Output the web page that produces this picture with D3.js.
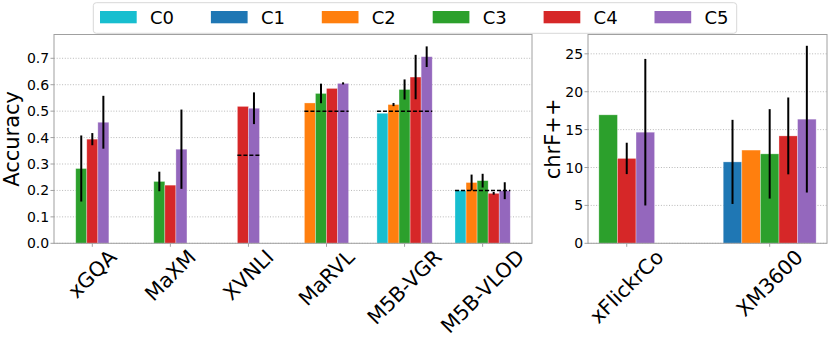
<!DOCTYPE html>
<html lang="en">
<head>
<meta charset="utf-8">
<title>Accuracy and chrF++</title>
<script src="https://cdn.jsdelivr.net/npm/d3@7"></script>
<style>
  body { margin: 0; background: #fff; }
  svg { font-family: "DejaVu Sans", sans-serif; }
</style>
</head>
<body>
<div id="chart"></div>
<script>
// ---- data ----
const accGroups = ["xGQA", "MaXM", "XVNLI", "MaRVL", "M5B-VGR", "M5B-VLOD"];
const accC0 = [null, null, null, null, 0.492, 0.200];
const accC2 = [null, null, null, 0.531, 0.525, 0.230];
const accC3 = [0.283, 0.234, null, 0.567, 0.582, 0.237];
const accC4 = [0.394, 0.220, 0.518, 0.586, 0.629, 0.189];
const accC5 = [0.458, 0.356, 0.511, 0.605, 0.706, 0.199];
const accErrC0 = [0, 0, 0, 0, 0, 0];
const accErrC2 = [0, 0, 0, 0, 0.006, 0.030];
const accErrC3 = [0.125, 0.037, 0, 0.037, 0.038, 0.026];
const accErrC4 = [0.023, 0, 0, 0, 0.084, 0.005];
const accErrC5 = [0.100, 0.150, 0.060, 0.004, 0.039, 0.032];
const chance = [null, null, 1 / 3, 0.5, 0.5, 0.2];
const accTicks = [0, 0.1, 0.2, 0.3, 0.4, 0.5, 0.6, 0.7];

const chrGroups = ["xFlickrCo", "XM3600"];
const chrC1 = [null, 10.74];
const chrC2 = [null, 12.3];
const chrC3 = [16.95, 11.8];
const chrC4 = [11.2, 14.17];
const chrC5 = [14.66, 16.38];
const chrErrC1 = [0, 5.55];
const chrErrC2 = [0, 0];
const chrErrC3 = [0, 5.9];
const chrErrC4 = [2.07, 5.07];
const chrErrC5 = [9.67, 9.68];
const chrTicks = [0, 5, 10, 15, 20, 25];

const legendNames = ["C0", "C1", "C2", "C3", "C4", "C5"];
const colors = {
  C0: "#17becf", C1: "#1f77b4", C2: "#ff7f0e",
  C3: "#2ca02c", C4: "#d62728", C5: "#9467bd"
};

const W = 830, H = 344;
const svg = d3.select("#chart").append("svg")
  .attr("width", W).attr("height", H);

const plotTop = 34.5, plotBottom = 243.3;

function drawPanel(opt) {
  const g = svg.append("g");
  // which series exist in each group
  const present = opt.groups.map((_, i) =>
    opt.series.filter(s => s.vals[i] != null));
  const w = opt.barW;
  const lo = d3.min(present, (p, i) => i - p.length * w / 2);
  const hi = d3.max(present, (p, i) => i + p.length * w / 2);
  const m = (hi - lo) * 0.05;
  const x = d3.scaleLinear().domain([lo - m, hi + m]).range([opt.x0, opt.x1]);
  const y = d3.scaleLinear().domain([0, opt.ymax]).range([plotBottom, plotTop]);

  // grid
  g.selectAll(".grid").data(opt.ticks).enter().append("line")
    .attr("x1", opt.x0).attr("x2", opt.x1)
    .attr("y1", d => y(d)).attr("y2", d => y(d))
    .attr("stroke", "#b8b8b8").attr("stroke-width", 1)
    .attr("stroke-dasharray", "1,1.7");

  // bars
  const bars = [];
  present.forEach((p, i) => {
    p.forEach((s, k) => {
      const c = i + (k - (p.length - 1) / 2) * w;
      bars.push({ c: c, v: s.vals[i], e: s.errs[i], name: s.name });
    });
  });
  g.selectAll(".bar").data(bars).enter().append("rect")
    .attr("x", d => x(d.c - w / 2))
    .attr("width", d => x(d.c + w / 2) - x(d.c - w / 2))
    .attr("y", d => y(d.v))
    .attr("height", d => y(0) - y(d.v))
    .attr("fill", d => colors[d.name])
    .attr("stroke", "#fff").attr("stroke-opacity", 0.45).attr("stroke-width", 0.7);

  // chance lines
  if (opt.chance) {
    opt.chance.forEach((cv, i) => {
      if (cv == null) return;
      const n = present[i].length;
      g.append("line")
        .attr("x1", x(i - n * w / 2)).attr("x2", x(i + n * w / 2))
        .attr("y1", y(cv)).attr("y2", y(cv))
        .attr("stroke", "#000").attr("stroke-width", 1.5)
        .attr("stroke-dasharray", "4,2");
    });
  }

  // error bars
  g.selectAll(".err").data(bars.filter(d => d.e > 0)).enter().append("line")
    .attr("x1", d => x(d.c)).attr("x2", d => x(d.c))
    .attr("y1", d => y(d.v - d.e)).attr("y2", d => y(d.v + d.e))
    .attr("stroke", "#000").attr("stroke-width", 2);

  // frame
  g.append("rect")
    .attr("x", opt.x0).attr("y", plotTop)
    .attr("width", opt.x1 - opt.x0).attr("height", plotBottom - plotTop)
    .attr("fill", "none").attr("stroke", "#a0a0a0").attr("stroke-width", 1);

  // y ticks
  opt.ticks.forEach(t => {
    g.append("line")
      .attr("x1", opt.x0 - 3.5).attr("x2", opt.x0)
      .attr("y1", y(t)).attr("y2", y(t))
      .attr("stroke", "#a0a0a0");
    g.append("text")
      .attr("x", opt.x0 - 4.8).attr("y", y(t))
      .attr("text-anchor", "end").attr("dominant-baseline", "central")
      .attr("font-size", 14).attr("fill", "#000")
      .text(opt.fmt(t));
  });

  // y label
  g.append("text")
    .attr("transform", `translate(${opt.labelX},${(plotTop + plotBottom) / 2}) rotate(-90)`)
    .attr("text-anchor", "middle").attr("dominant-baseline", "central")
    .attr("font-size", 21).attr("fill", "#000")
    .text(opt.ylabel);

  // x ticks and rotated labels (box centred under the tick)
  opt.groups.forEach((name, i) => {
    g.append("line")
      .attr("x1", x(i)).attr("x2", x(i))
      .attr("y1", plotBottom).attr("y2", plotBottom + 3.5)
      .attr("stroke", "#a0a0a0");
    const fs = 20.5;
    const t = g.append("text")
      .attr("text-anchor", "middle").attr("dominant-baseline", "central")
      .attr("font-size", fs).attr("fill", "#000")
      .text(name);
    const L = t.node().getComputedTextLength();
    const bh = (L + fs * 1.17) * Math.SQRT1_2;
    t.attr("transform", `translate(${x(i)},${245 + bh / 2}) rotate(-45)`);
  });
}

drawPanel({
  x0: 54, x1: 532, groups: accGroups, barW: 0.1416, ymax: 0.79,
  series: [
    { name: "C0", vals: accC0, errs: accErrC0 },
    { name: "C2", vals: accC2, errs: accErrC2 },
    { name: "C3", vals: accC3, errs: accErrC3 },
    { name: "C4", vals: accC4, errs: accErrC4 },
    { name: "C5", vals: accC5, errs: accErrC5 }
  ],
  chance: chance, ticks: accTicks, fmt: d3.format(".1f"),
  ylabel: "Accuracy", labelX: 12
});

drawPanel({
  x0: 588, x1: 827, groups: chrGroups, barW: 0.13, ymax: 27.55,
  series: [
    { name: "C1", vals: chrC1, errs: chrErrC1 },
    { name: "C2", vals: chrC2, errs: chrErrC2 },
    { name: "C3", vals: chrC3, errs: chrErrC3 },
    { name: "C4", vals: chrC4, errs: chrErrC4 },
    { name: "C5", vals: chrC5, errs: chrErrC5 }
  ],
  chance: null, ticks: chrTicks, fmt: d3.format("d"),
  ylabel: "chrF++", labelX: 552.5
});

// legend
const leg = svg.append("g");
leg.append("rect")
  .attr("x", 93.3).attr("y", 2.7).attr("width", 643.4).attr("height", 30.6)
  .attr("rx", 3).attr("fill", "#fff").attr("fill-opacity", 0.85)
  .attr("stroke", "#d8d8d8");
const item = leg.selectAll(".item").data(legendNames).enter().append("g")
  .attr("transform", (d, i) => `translate(${100 + i * 110.9},0)`);
item.append("rect")
  .attr("x", 0).attr("y", 11).attr("width", 36.7).attr("height", 12.3)
  .attr("fill", d => colors[d]);
item.append("text")
  .attr("x", 50).attr("y", 17.5)
  .attr("dominant-baseline", "central")
  .attr("font-size", 18).attr("fill", "#000")
  .text(d => d);
</script>
</body>
</html>
